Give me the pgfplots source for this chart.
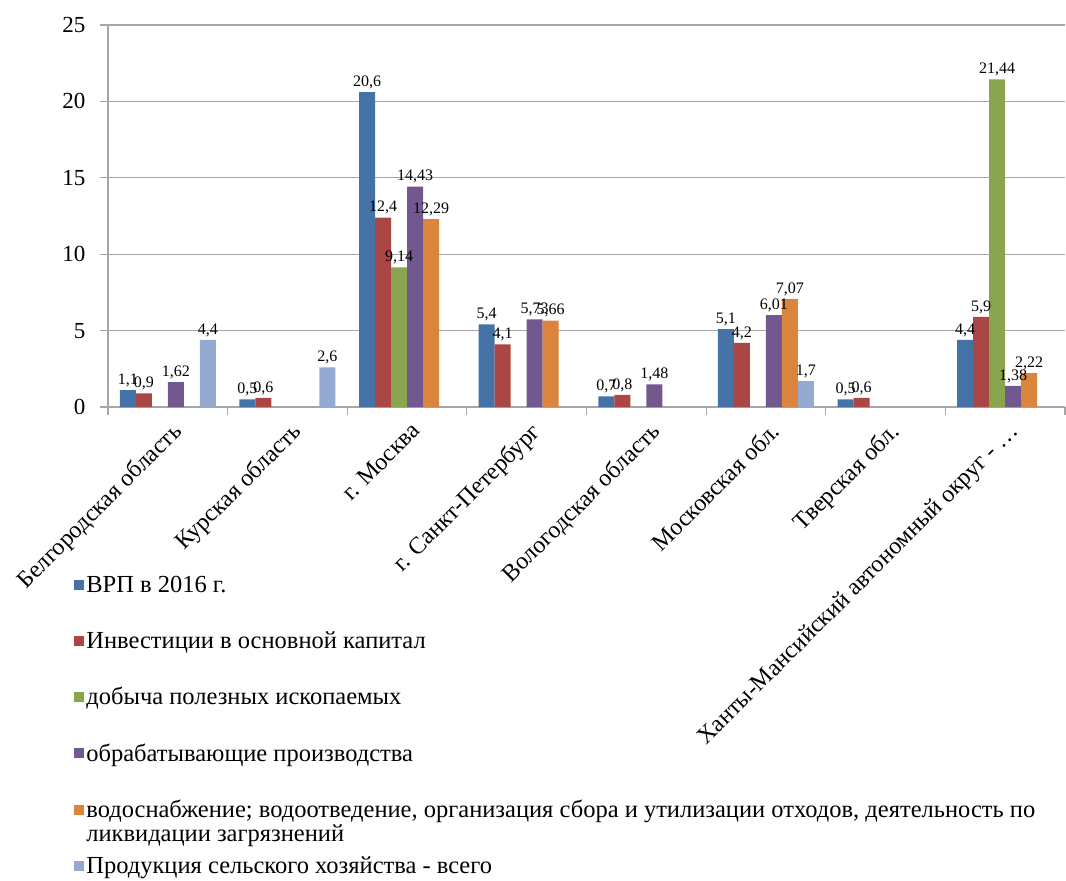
\documentclass[border=0pt]{standalone}
\usepackage{pgfplots}
\pgfplotsset{compat=1.18}
\usepackage{fontspec}
\setmainfont{Liberation Serif}

\definecolor{cvrp}{HTML}{4572A7}
\definecolor{cinv}{HTML}{AA4643}
\definecolor{cdob}{HTML}{89A54E}
\definecolor{cobr}{HTML}{71588F}
\definecolor{cvod}{HTML}{DB843D}
\definecolor{cagr}{HTML}{93A9CF}
\definecolor{axgray}{HTML}{A6A6A6}

\pgfplotsset{
  /pgf/number format/assume math mode=true,
  sq/.style={legend image code/.code={\fill[##1] (-4pt,-5pt) rectangle (6pt,5pt);}},
}

\begin{document}
\begin{tikzpicture}
\begin{axis}[
    scale only axis,
    width=957pt, height=382pt,
    xmin=-0.5, xmax=7.5,
    ymin=0, ymax=25,
    ybar=0pt, bar width=16pt,
    axis x line*=bottom, axis y line*=left,
    axis line style={draw=axgray, line width=1.2pt},
    ytick={0,5,...,25},
    ymajorgrids,
    grid style={draw=axgray, line width=1.2pt},
    tick style={draw=axgray, line width=1.2pt},
    tick align=outside,
    major tick length=8pt,
    minor tick length=8pt,
    xtick={0,...,7},
    major x tick style={draw=none},
    minor xtick={-0.5,0.5,...,7.5},
    xticklabels={Белгородская область, Курская область, г. Москва, г. Санкт-Петербург, Вологодская область, Московская обл., Тверская обл., Ханты-Мансийский автономный округ - …},
    xticklabel style={font=\fontsize{24}{24}\selectfont, rotate=45, anchor=north east, inner sep=2pt, yshift=-4pt},
    yticklabel style={font=\fontsize{23}{23}\selectfont, xshift=-11pt},
    nodes near coords,
    nodes near coords style={font=\fontsize{16}{16}\selectfont, /pgf/number format/use comma, inner sep=3pt},
    legend style={at={(-0.0385,-0.432)}, anchor=north west, draw=none, fill=none,
        font=\fontsize{24.5}{23}\selectfont, row sep=33.5pt, cells={anchor=west}},
    legend cell align=left,
]
\addplot[fill=cvrp, draw=none, sq] coordinates {(0,1.1) (1,0.5) (2,20.6) (3,5.4) (4,0.7) (5,5.1) (6,0.5) (7,4.4)};
\addlegendentry{ВРП в 2016 г.}
\addplot[fill=cinv, draw=none, sq] coordinates {(0,0.9) (1,0.6) (2,12.4) (3,4.1) (4,0.8) (5,4.2) (6,0.6) (7,5.9)};
\addlegendentry{Инвестиции в основной капитал}
\addplot[fill=cdob, draw=none, sq] coordinates {(2,9.14) (7,21.44)};
\addlegendentry{добыча полезных ископаемых}
\addplot[fill=cobr, draw=none, sq] coordinates {(0,1.62) (2,14.43) (3,5.73) (4,1.48) (5,6.01) (7,1.38)};
\addlegendentry{обрабатывающие производства}
\addplot[fill=cvod, draw=none, sq] coordinates {(2,12.29) (3,5.66) (5,7.07) (7,2.22)};
\addlegendentry{\raisebox{0pt}[\height][0pt]{\begin{tabular}[t]{@{}l@{}}водоснабжение; водоотведение, организация сбора и утилизации отходов, деятельность по\\ликвидации загрязнений\end{tabular}}}
\addplot[fill=cagr, draw=none, sq] coordinates {(0,4.4) (1,2.6) (5,1.7)};
\addlegendentry{Продукция сельского хозяйства - всего}
\coordinate (bbll) at (rel axis cs:-0.11285,-1.2382);
\coordinate (bbur) at (rel axis cs:1.001,1.0654);
\end{axis}
\pgfresetboundingbox
\path (bbll) rectangle (bbur);
\end{tikzpicture}
\end{document}
